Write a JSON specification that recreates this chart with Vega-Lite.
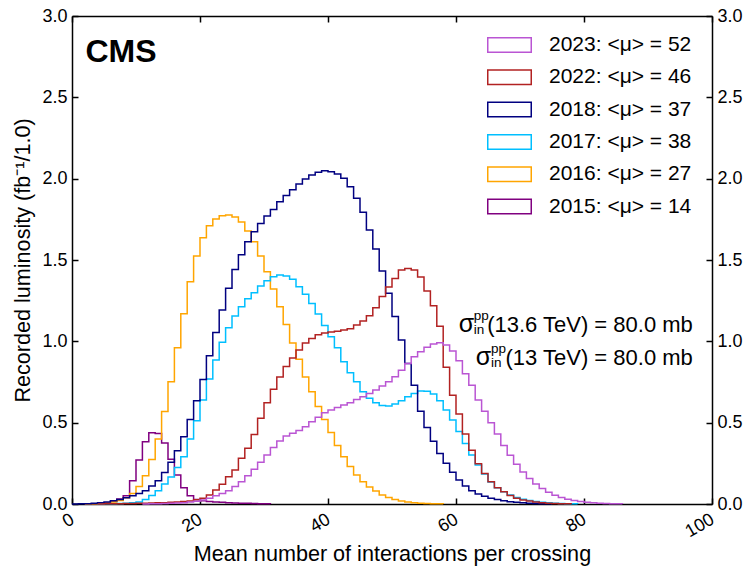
{
  "$schema": "https://vega.github.io/schema/vega-lite/v6.json",
  "width": 640,
  "height": 488,
  "autosize": {"type": "none"},
  "padding": {"left": 72, "top": 16, "right": 34, "bottom": 68},
  "background": "white",
  "config": {
    "font": "Liberation Sans",
    "view": {"stroke": null},
    "axis": {
      "domainColor": "black", "domainWidth": 1.5, "tickColor": "black", "tickWidth": 1.5,
      "labelColor": "black", "titleColor": "black", "labelFontSize": 18, "titleFontSize": 21.6,
      "titleFontWeight": "normal", "grid": false, "labelFont": "Liberation Sans", "titleFont": "Liberation Sans",
      "zindex": 1
    }
  },
  "data": {"values": [
    {"s":"2015","x":2,"y":0},{"s":"2015","x":3,"y":0.002},{"s":"2015","x":4,"y":0.004},{"s":"2015","x":5,"y":0.008},{"s":"2015","x":6,"y":0.015},{"s":"2015","x":7,"y":0.03},{"s":"2015","x":8,"y":0.05},{"s":"2015","x":9,"y":0.143},{"s":"2015","x":10,"y":0.27},{"s":"2015","x":11,"y":0.383},{"s":"2015","x":12,"y":0.438},{"s":"2015","x":13,"y":0.434},{"s":"2015","x":14,"y":0.375},{"s":"2015","x":15,"y":0.275},{"s":"2015","x":16,"y":0.179},{"s":"2015","x":17,"y":0.1},{"s":"2015","x":18,"y":0.05},{"s":"2015","x":19,"y":0.028},{"s":"2015","x":20,"y":0.02},{"s":"2015","x":21,"y":0.015},{"s":"2015","x":22,"y":0.012},{"s":"2015","x":23,"y":0.01},{"s":"2015","x":24,"y":0.008},{"s":"2015","x":25,"y":0.006},{"s":"2015","x":26,"y":0.005},{"s":"2015","x":27,"y":0.004},{"s":"2015","x":28,"y":0.003},{"s":"2015","x":29,"y":0.002},{"s":"2015","x":30,"y":0.001},{"s":"2015","x":31,"y":0},

    {"s":"2016","x":2,"y":0},{"s":"2016","x":3,"y":0.002},{"s":"2016","x":4,"y":0.003},{"s":"2016","x":5,"y":0.006},{"s":"2016","x":6,"y":0.012},{"s":"2016","x":7,"y":0.022},{"s":"2016","x":8,"y":0.038},{"s":"2016","x":9,"y":0.065},{"s":"2016","x":10,"y":0.108},{"s":"2016","x":11,"y":0.174},{"s":"2016","x":12,"y":0.273},{"s":"2016","x":13,"y":0.4},{"s":"2016","x":14,"y":0.568},{"s":"2016","x":15,"y":0.752},{"s":"2016","x":16,"y":0.96},{"s":"2016","x":17,"y":1.17},{"s":"2016","x":18,"y":1.366},{"s":"2016","x":19,"y":1.524},{"s":"2016","x":20,"y":1.637},{"s":"2016","x":21,"y":1.711},{"s":"2016","x":22,"y":1.752},{"s":"2016","x":23,"y":1.772},{"s":"2016","x":24,"y":1.776},{"s":"2016","x":25,"y":1.764},{"s":"2016","x":26,"y":1.733},{"s":"2016","x":27,"y":1.678},{"s":"2016","x":28,"y":1.612},{"s":"2016","x":29,"y":1.524},{"s":"2016","x":30,"y":1.428},{"s":"2016","x":31,"y":1.322},{"s":"2016","x":32,"y":1.213},{"s":"2016","x":33,"y":1.104},{"s":"2016","x":34,"y":0.99},{"s":"2016","x":35,"y":0.89},{"s":"2016","x":36,"y":0.78},{"s":"2016","x":37,"y":0.69},{"s":"2016","x":38,"y":0.6},{"s":"2016","x":39,"y":0.52},{"s":"2016","x":40,"y":0.44},{"s":"2016","x":41,"y":0.36},{"s":"2016","x":42,"y":0.29},{"s":"2016","x":43,"y":0.23},{"s":"2016","x":44,"y":0.178},{"s":"2016","x":45,"y":0.137},{"s":"2016","x":46,"y":0.105},{"s":"2016","x":47,"y":0.08},{"s":"2016","x":48,"y":0.056},{"s":"2016","x":49,"y":0.04},{"s":"2016","x":50,"y":0.027},{"s":"2016","x":51,"y":0.018},{"s":"2016","x":52,"y":0.012},{"s":"2016","x":53,"y":0.008},{"s":"2016","x":54,"y":0.005},{"s":"2016","x":55,"y":0.003},{"s":"2016","x":56,"y":0.002},{"s":"2016","x":57,"y":0.001},{"s":"2016","x":58,"y":0},

    {"s":"2017","x":4,"y":0},{"s":"2017","x":5,"y":0.001},{"s":"2017","x":6,"y":0.002},{"s":"2017","x":7,"y":0.003},{"s":"2017","x":8,"y":0.005},{"s":"2017","x":9,"y":0.008},{"s":"2017","x":10,"y":0.013},{"s":"2017","x":11,"y":0.028},{"s":"2017","x":12,"y":0.053},{"s":"2017","x":13,"y":0.082},{"s":"2017","x":14,"y":0.123},{"s":"2017","x":15,"y":0.166},{"s":"2017","x":16,"y":0.225},{"s":"2017","x":17,"y":0.291},{"s":"2017","x":18,"y":0.4},{"s":"2017","x":19,"y":0.512},{"s":"2017","x":20,"y":0.639},{"s":"2017","x":21,"y":0.768},{"s":"2017","x":22,"y":0.885},{"s":"2017","x":23,"y":0.994},{"s":"2017","x":24,"y":1.084},{"s":"2017","x":25,"y":1.156},{"s":"2017","x":26,"y":1.213},{"s":"2017","x":27,"y":1.262},{"s":"2017","x":28,"y":1.299},{"s":"2017","x":29,"y":1.34},{"s":"2017","x":30,"y":1.373},{"s":"2017","x":31,"y":1.397},{"s":"2017","x":32,"y":1.408},{"s":"2017","x":33,"y":1.401},{"s":"2017","x":34,"y":1.381},{"s":"2017","x":35,"y":1.335},{"s":"2017","x":36,"y":1.289},{"s":"2017","x":37,"y":1.233},{"s":"2017","x":38,"y":1.168},{"s":"2017","x":39,"y":1.098},{"s":"2017","x":40,"y":1.028},{"s":"2017","x":41,"y":0.96},{"s":"2017","x":42,"y":0.875},{"s":"2017","x":43,"y":0.807},{"s":"2017","x":44,"y":0.752},{"s":"2017","x":45,"y":0.69},{"s":"2017","x":46,"y":0.65},{"s":"2017","x":47,"y":0.623},{"s":"2017","x":48,"y":0.606},{"s":"2017","x":49,"y":0.602},{"s":"2017","x":50,"y":0.615},{"s":"2017","x":51,"y":0.635},{"s":"2017","x":52,"y":0.66},{"s":"2017","x":53,"y":0.68},{"s":"2017","x":54,"y":0.695},{"s":"2017","x":55,"y":0.693},{"s":"2017","x":56,"y":0.676},{"s":"2017","x":57,"y":0.635},{"s":"2017","x":58,"y":0.578},{"s":"2017","x":59,"y":0.516},{"s":"2017","x":60,"y":0.445},{"s":"2017","x":61,"y":0.372},{"s":"2017","x":62,"y":0.301},{"s":"2017","x":63,"y":0.24},{"s":"2017","x":64,"y":0.184},{"s":"2017","x":65,"y":0.135},{"s":"2017","x":66,"y":0.1},{"s":"2017","x":67,"y":0.075},{"s":"2017","x":68,"y":0.055},{"s":"2017","x":69,"y":0.04},{"s":"2017","x":70,"y":0.029},{"s":"2017","x":71,"y":0.021},{"s":"2017","x":72,"y":0.015},{"s":"2017","x":73,"y":0.01},{"s":"2017","x":74,"y":0.007},{"s":"2017","x":75,"y":0.005},{"s":"2017","x":76,"y":0.003},{"s":"2017","x":77,"y":0.002},{"s":"2017","x":78,"y":0.001},{"s":"2017","x":79,"y":0},

    {"s":"2018","x":0,"y":0},{"s":"2018","x":1,"y":0.001},{"s":"2018","x":2,"y":0.002},{"s":"2018","x":3,"y":0.004},{"s":"2018","x":4,"y":0.008},{"s":"2018","x":5,"y":0.013},{"s":"2018","x":6,"y":0.02},{"s":"2018","x":7,"y":0.028},{"s":"2018","x":8,"y":0.038},{"s":"2018","x":9,"y":0.051},{"s":"2018","x":10,"y":0.065},{"s":"2018","x":11,"y":0.082},{"s":"2018","x":12,"y":0.111},{"s":"2018","x":13,"y":0.143},{"s":"2018","x":14,"y":0.193},{"s":"2018","x":15,"y":0.256},{"s":"2018","x":16,"y":0.328},{"s":"2018","x":17,"y":0.414},{"s":"2018","x":18,"y":0.52},{"s":"2018","x":19,"y":0.635},{"s":"2018","x":20,"y":0.766},{"s":"2018","x":21,"y":0.911},{"s":"2018","x":22,"y":1.054},{"s":"2018","x":23,"y":1.192},{"s":"2018","x":24,"y":1.326},{"s":"2018","x":25,"y":1.442},{"s":"2018","x":26,"y":1.532},{"s":"2018","x":27,"y":1.612},{"s":"2018","x":28,"y":1.674},{"s":"2018","x":29,"y":1.725},{"s":"2018","x":30,"y":1.77},{"s":"2018","x":31,"y":1.811},{"s":"2018","x":32,"y":1.858},{"s":"2018","x":33,"y":1.897},{"s":"2018","x":34,"y":1.932},{"s":"2018","x":35,"y":1.967},{"s":"2018","x":36,"y":1.998},{"s":"2018","x":37,"y":2.022},{"s":"2018","x":38,"y":2.039},{"s":"2018","x":39,"y":2.049},{"s":"2018","x":40,"y":2.043},{"s":"2018","x":41,"y":2.028},{"s":"2018","x":42,"y":2.002},{"s":"2018","x":43,"y":1.95},{"s":"2018","x":44,"y":1.879},{"s":"2018","x":45,"y":1.793},{"s":"2018","x":46,"y":1.684},{"s":"2018","x":47,"y":1.568},{"s":"2018","x":48,"y":1.433},{"s":"2018","x":49,"y":1.295},{"s":"2018","x":50,"y":1.152},{"s":"2018","x":51,"y":1.008},{"s":"2018","x":52,"y":0.864},{"s":"2018","x":53,"y":0.73},{"s":"2018","x":54,"y":0.57},{"s":"2018","x":55,"y":0.47},{"s":"2018","x":56,"y":0.385},{"s":"2018","x":57,"y":0.31},{"s":"2018","x":58,"y":0.25},{"s":"2018","x":59,"y":0.195},{"s":"2018","x":60,"y":0.148},{"s":"2018","x":61,"y":0.11},{"s":"2018","x":62,"y":0.082},{"s":"2018","x":63,"y":0.062},{"s":"2018","x":64,"y":0.048},{"s":"2018","x":65,"y":0.036},{"s":"2018","x":66,"y":0.027},{"s":"2018","x":67,"y":0.02},{"s":"2018","x":68,"y":0.014},{"s":"2018","x":69,"y":0.01},{"s":"2018","x":70,"y":0.007},{"s":"2018","x":71,"y":0.005},{"s":"2018","x":72,"y":0.003},{"s":"2018","x":73,"y":0.002},{"s":"2018","x":74,"y":0.001},{"s":"2018","x":75,"y":0},

    {"s":"2022","x":4,"y":0},{"s":"2022","x":5,"y":0.001},{"s":"2022","x":6,"y":0.002},{"s":"2022","x":7,"y":0.002},{"s":"2022","x":8,"y":0.003},{"s":"2022","x":9,"y":0.003},{"s":"2022","x":10,"y":0.004},{"s":"2022","x":11,"y":0.005},{"s":"2022","x":12,"y":0.006},{"s":"2022","x":13,"y":0.007},{"s":"2022","x":14,"y":0.008},{"s":"2022","x":15,"y":0.01},{"s":"2022","x":16,"y":0.012},{"s":"2022","x":17,"y":0.015},{"s":"2022","x":18,"y":0.019},{"s":"2022","x":19,"y":0.026},{"s":"2022","x":20,"y":0.036},{"s":"2022","x":21,"y":0.056},{"s":"2022","x":22,"y":0.086},{"s":"2022","x":23,"y":0.121},{"s":"2022","x":24,"y":0.168},{"s":"2022","x":25,"y":0.209},{"s":"2022","x":26,"y":0.281},{"s":"2022","x":27,"y":0.342},{"s":"2022","x":28,"y":0.428},{"s":"2022","x":29,"y":0.527},{"s":"2022","x":30,"y":0.623},{"s":"2022","x":31,"y":0.705},{"s":"2022","x":32,"y":0.781},{"s":"2022","x":33,"y":0.845},{"s":"2022","x":34,"y":0.897},{"s":"2022","x":35,"y":0.946},{"s":"2022","x":36,"y":0.99},{"s":"2022","x":37,"y":1.018},{"s":"2022","x":38,"y":1.04},{"s":"2022","x":39,"y":1.051},{"s":"2022","x":40,"y":1.057},{"s":"2022","x":41,"y":1.062},{"s":"2022","x":42,"y":1.069},{"s":"2022","x":43,"y":1.077},{"s":"2022","x":44,"y":1.1},{"s":"2022","x":45,"y":1.125},{"s":"2022","x":46,"y":1.157},{"s":"2022","x":47,"y":1.206},{"s":"2022","x":48,"y":1.275},{"s":"2022","x":49,"y":1.334},{"s":"2022","x":50,"y":1.387},{"s":"2022","x":51,"y":1.438},{"s":"2022","x":52,"y":1.448},{"s":"2022","x":53,"y":1.438},{"s":"2022","x":54,"y":1.395},{"s":"2022","x":55,"y":1.31},{"s":"2022","x":56,"y":1.218},{"s":"2022","x":57,"y":1.093},{"s":"2022","x":58,"y":0.84},{"s":"2022","x":59,"y":0.668},{"s":"2022","x":60,"y":0.553},{"s":"2022","x":61,"y":0.43},{"s":"2022","x":62,"y":0.33},{"s":"2022","x":63,"y":0.248},{"s":"2022","x":64,"y":0.188},{"s":"2022","x":65,"y":0.137},{"s":"2022","x":66,"y":0.1},{"s":"2022","x":67,"y":0.075},{"s":"2022","x":68,"y":0.052},{"s":"2022","x":69,"y":0.036},{"s":"2022","x":70,"y":0.025},{"s":"2022","x":71,"y":0.018},{"s":"2022","x":72,"y":0.012},{"s":"2022","x":73,"y":0.008},{"s":"2022","x":74,"y":0.005},{"s":"2022","x":75,"y":0.003},{"s":"2022","x":76,"y":0.002},{"s":"2022","x":77,"y":0.001},{"s":"2022","x":78,"y":0},

    {"s":"2023","x":11,"y":0},{"s":"2023","x":12,"y":0.001},{"s":"2023","x":13,"y":0.002},{"s":"2023","x":14,"y":0.003},{"s":"2023","x":15,"y":0.004},{"s":"2023","x":16,"y":0.006},{"s":"2023","x":17,"y":0.008},{"s":"2023","x":18,"y":0.012},{"s":"2023","x":19,"y":0.017},{"s":"2023","x":20,"y":0.024},{"s":"2023","x":21,"y":0.035},{"s":"2023","x":22,"y":0.051},{"s":"2023","x":23,"y":0.065},{"s":"2023","x":24,"y":0.082},{"s":"2023","x":25,"y":0.107},{"s":"2023","x":26,"y":0.137},{"s":"2023","x":27,"y":0.174},{"s":"2023","x":28,"y":0.213},{"s":"2023","x":29,"y":0.256},{"s":"2023","x":30,"y":0.301},{"s":"2023","x":31,"y":0.348},{"s":"2023","x":32,"y":0.387},{"s":"2023","x":33,"y":0.418},{"s":"2023","x":34,"y":0.435},{"s":"2023","x":35,"y":0.452},{"s":"2023","x":36,"y":0.475},{"s":"2023","x":37,"y":0.506},{"s":"2023","x":38,"y":0.533},{"s":"2023","x":39,"y":0.561},{"s":"2023","x":40,"y":0.578},{"s":"2023","x":41,"y":0.594},{"s":"2023","x":42,"y":0.608},{"s":"2023","x":43,"y":0.623},{"s":"2023","x":44,"y":0.643},{"s":"2023","x":45,"y":0.66},{"s":"2023","x":46,"y":0.68},{"s":"2023","x":47,"y":0.701},{"s":"2023","x":48,"y":0.725},{"s":"2023","x":49,"y":0.752},{"s":"2023","x":50,"y":0.783},{"s":"2023","x":51,"y":0.823},{"s":"2023","x":52,"y":0.864},{"s":"2023","x":53,"y":0.905},{"s":"2023","x":54,"y":0.936},{"s":"2023","x":55,"y":0.963},{"s":"2023","x":56,"y":0.983},{"s":"2023","x":57,"y":0.992},{"s":"2023","x":58,"y":0.977},{"s":"2023","x":59,"y":0.94},{"s":"2023","x":60,"y":0.88},{"s":"2023","x":61,"y":0.8},{"s":"2023","x":62,"y":0.73},{"s":"2023","x":63,"y":0.64},{"s":"2023","x":64,"y":0.57},{"s":"2023","x":65,"y":0.5},{"s":"2023","x":66,"y":0.43},{"s":"2023","x":67,"y":0.36},{"s":"2023","x":68,"y":0.3},{"s":"2023","x":69,"y":0.245},{"s":"2023","x":70,"y":0.197},{"s":"2023","x":71,"y":0.157},{"s":"2023","x":72,"y":0.123},{"s":"2023","x":73,"y":0.095},{"s":"2023","x":74,"y":0.072},{"s":"2023","x":75,"y":0.054},{"s":"2023","x":76,"y":0.04},{"s":"2023","x":77,"y":0.029},{"s":"2023","x":78,"y":0.021},{"s":"2023","x":79,"y":0.015},{"s":"2023","x":80,"y":0.01},{"s":"2023","x":81,"y":0.007},{"s":"2023","x":82,"y":0.005},{"s":"2023","x":83,"y":0.003},{"s":"2023","x":84,"y":0.002},{"s":"2023","x":85,"y":0.001},{"s":"2023","x":86,"y":0}
  ]},
  "layer": [
    {
      "mark": {"type": "line", "interpolate": "step-after", "strokeWidth": 1.5},
      "encoding": {
        "x": {"field": "x", "type": "quantitative", "scale": {"domain": [0, 100], "nice": false, "zero": false},
          "axis": {"orient": "bottom", "values": [0, 20, 40, 60, 80, 100], "format": "d", "tickSize": -6, "labelPadding": 12,
                   "labelAngle": -30, "labelAlign": "right", "labelBaseline": "top", "labelFlush": false, "labelOverlap": false,
                   "labelOffset": -4,
                   "title": "Mean number of interactions per crossing", "titlePadding": 3}},
        "y": {"field": "y", "type": "quantitative", "scale": {"domain": [0, 3], "nice": false},
          "axis": {"orient": "left", "values": [0, 0.5, 1, 1.5, 2, 2.5, 3], "format": ".1f", "tickSize": -6, "labelPadding": 11,
                   "labelOverlap": false, "labelFlush": false,
                   "title": "Recorded luminosity (fb⁻¹/1.0)", "titlePadding": 7}},
        "color": {"field": "s", "type": "nominal",
          "scale": {"domain": ["2023", "2022", "2018", "2017", "2016", "2015"],
                    "range": ["#BA55D3", "#B22222", "#000080", "#00BFFF", "#FFA500", "#800080"]},
          "legend": {"orient": "none", "legendX": 422, "legendY": 13.5, "title": null,
                     "symbolType": "M-1.5,-0.5H1.5V0.5H-1.5Z", "symbolSize": 841, "symbolStrokeWidth": 1.5,
                     "symbolFillColor": "transparent", "labelFontSize": 21, "labelOffset": 24, "rowPadding": 6.3,
                     "labelFont": "Liberation Sans", "labelColor": "black", "labelLimit": 300,
                     "labelExpr": "datum.label == '2023' ? '2023: <μ> = 52' : datum.label == '2022' ? '2022: <μ> = 46' : datum.label == '2018' ? '2018: <μ> = 37' : datum.label == '2017' ? '2017: <μ> = 38' : datum.label == '2016' ? '2016: <μ> = 27' : '2015: <μ> = 14'"}}
      }
    },
    {
      "mark": {"type": "point", "opacity": 0},
      "encoding": {
        "x": {"field": "x", "type": "quantitative", "scale": {"domain": [0, 100], "nice": false, "zero": false},
          "axis": {"orient": "top", "values": [0, 20, 40, 60, 80, 100], "tickSize": -6, "labels": false, "title": null}},
        "y": {"field": "y", "type": "quantitative", "scale": {"domain": [0, 3], "nice": false},
          "axis": {"orient": "right", "values": [0, 0.5, 1, 1.5, 2, 2.5, 3], "format": ".1f", "tickSize": -6, "labelPadding": 11,
                   "labelOverlap": false, "labelFlush": false, "title": null}}
      }
    },
    {
      "data": {"values": [{"t": "CMS"}]},
      "mark": {"type": "text", "fontSize": 32, "fontWeight": "bold", "align": "left", "baseline": "alphabetic", "color": "black"},
      "encoding": {
        "text": {"field": "t"},
        "x": {"datum": 2.1, "type": "quantitative", "axis": null, "scale": {"domain": [0, 100]}},
        "y": {"datum": 2.72, "type": "quantitative", "axis": null, "scale": {"domain": [0, 3]}}
      }
    },
    {
      "data": {"values": [{"t": "(13.6 TeV) = 80.0 mb"}]},
      "mark": {"type": "text", "fontSize": 22, "align": "right", "baseline": "alphabetic", "color": "black"},
      "encoding": {
        "text": {"field": "t"},
        "x": {"datum": 97.0, "type": "quantitative", "axis": null, "scale": {"domain": [0, 100]}},
        "y": {"datum": 1.057, "type": "quantitative", "axis": null, "scale": {"domain": [0, 3]}}
      }
    },
    {
      "data": {"values": [{"t": "σ"}]},
      "mark": {"type": "text", "fontSize": 25, "align": "left", "baseline": "alphabetic", "color": "black"},
      "encoding": {
        "text": {"field": "t"},
        "x": {"datum": 60.42, "type": "quantitative", "axis": null, "scale": {"domain": [0, 100]}},
        "y": {"datum": 1.057, "type": "quantitative", "axis": null, "scale": {"domain": [0, 3]}}
      }
    },
    {
      "data": {"values": [{"t": "pp"}]},
      "mark": {"type": "text", "fontSize": 13.5, "align": "left", "baseline": "alphabetic", "color": "black"},
      "encoding": {
        "text": {"field": "t"},
        "x": {"datum": 62.77, "type": "quantitative", "axis": null, "scale": {"domain": [0, 100]}},
        "y": {"datum": 1.131, "type": "quantitative", "axis": null, "scale": {"domain": [0, 3]}}
      }
    },
    {
      "data": {"values": [{"t": "in"}]},
      "mark": {"type": "text", "fontSize": 13.5, "align": "left", "baseline": "alphabetic", "color": "black"},
      "encoding": {
        "text": {"field": "t"},
        "x": {"datum": 62.77, "type": "quantitative", "axis": null, "scale": {"domain": [0, 100]}},
        "y": {"datum": 1.045, "type": "quantitative", "axis": null, "scale": {"domain": [0, 3]}}
      }
    },
    {
      "data": {"values": [{"t": "(13 TeV) = 80.0 mb"}]},
      "mark": {"type": "text", "fontSize": 22, "align": "right", "baseline": "alphabetic", "color": "black"},
      "encoding": {
        "text": {"field": "t"},
        "x": {"datum": 97.0, "type": "quantitative", "axis": null, "scale": {"domain": [0, 100]}},
        "y": {"datum": 0.854, "type": "quantitative", "axis": null, "scale": {"domain": [0, 3]}}
      }
    },
    {
      "data": {"values": [{"t": "σ"}]},
      "mark": {"type": "text", "fontSize": 25, "align": "left", "baseline": "alphabetic", "color": "black"},
      "encoding": {
        "text": {"field": "t"},
        "x": {"datum": 63.1, "type": "quantitative", "axis": null, "scale": {"domain": [0, 100]}},
        "y": {"datum": 0.854, "type": "quantitative", "axis": null, "scale": {"domain": [0, 3]}}
      }
    },
    {
      "data": {"values": [{"t": "pp"}]},
      "mark": {"type": "text", "fontSize": 13.5, "align": "left", "baseline": "alphabetic", "color": "black"},
      "encoding": {
        "text": {"field": "t"},
        "x": {"datum": 65.45, "type": "quantitative", "axis": null, "scale": {"domain": [0, 100]}},
        "y": {"datum": 0.93, "type": "quantitative", "axis": null, "scale": {"domain": [0, 3]}}
      }
    },
    {
      "data": {"values": [{"t": "in"}]},
      "mark": {"type": "text", "fontSize": 13.5, "align": "left", "baseline": "alphabetic", "color": "black"},
      "encoding": {
        "text": {"field": "t"},
        "x": {"datum": 65.45, "type": "quantitative", "axis": null, "scale": {"domain": [0, 100]}},
        "y": {"datum": 0.842, "type": "quantitative", "axis": null, "scale": {"domain": [0, 3]}}
      }
    }
  ],
  "resolve": {"axis": {"x": "independent", "y": "independent"}}
}
